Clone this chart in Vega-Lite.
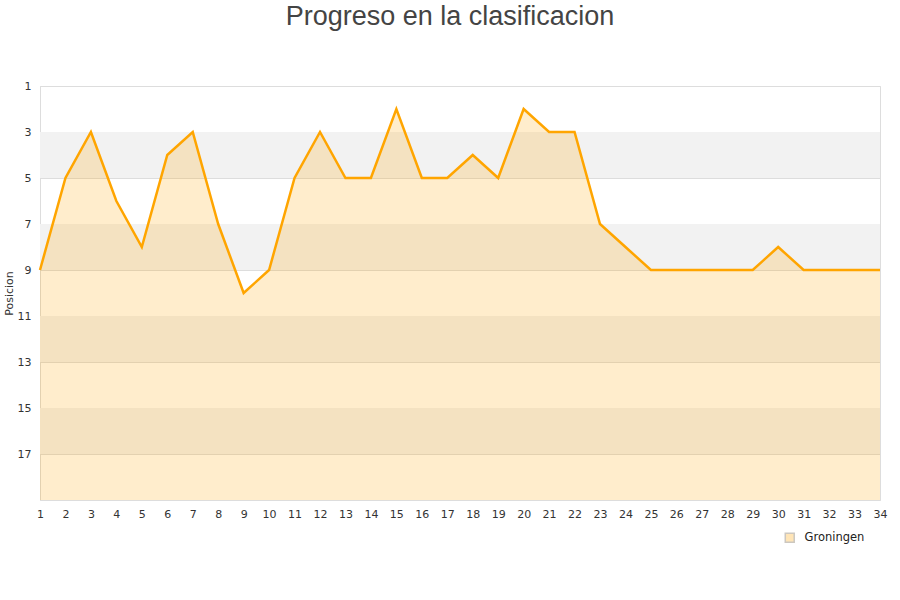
{
  "$schema": "https://vega.github.io/schema/vega-lite/v6.json",
  "width": 840,
  "height": 414,
  "autosize": {"type": "none"},
  "padding": {"left": 40, "top": 86, "right": 20, "bottom": 100},
  "background": "white",
  "title": {
    "text": "Progreso en la clasificacion",
    "font": "Liberation Sans",
    "fontSize": 27,
    "fontWeight": "normal",
    "color": "#444444",
    "anchor": "middle",
    "dx": -10,
    "offset": 49
  },
  "config": {
    "view": {"stroke": "#dddddd"},
    "axis": {
      "labelFont": "DejaVu Sans",
      "labelFontSize": 11,
      "labelColor": "#333333",
      "titleFont": "DejaVu Sans",
      "titleFontSize": 11,
      "titleFontWeight": "normal",
      "titleColor": "#333333",
      "domainColor": "#dddddd",
      "gridColor": "#dddddd",
      "ticks": false
    },
    "axisX": {"labelOverlap": false, "labelFlush": false},
    "legend": {
      "labelFont": "DejaVu Sans",
      "labelFontSize": 11.5,
      "labelColor": "#222222"
    }
  },
  "datasets": {
    "pos": [
      {"jornada": 1, "posicion": 9, "equipo": "Groningen"},
      {"jornada": 2, "posicion": 5, "equipo": "Groningen"},
      {"jornada": 3, "posicion": 3, "equipo": "Groningen"},
      {"jornada": 4, "posicion": 6, "equipo": "Groningen"},
      {"jornada": 5, "posicion": 8, "equipo": "Groningen"},
      {"jornada": 6, "posicion": 4, "equipo": "Groningen"},
      {"jornada": 7, "posicion": 3, "equipo": "Groningen"},
      {"jornada": 8, "posicion": 7, "equipo": "Groningen"},
      {"jornada": 9, "posicion": 10, "equipo": "Groningen"},
      {"jornada": 10, "posicion": 9, "equipo": "Groningen"},
      {"jornada": 11, "posicion": 5, "equipo": "Groningen"},
      {"jornada": 12, "posicion": 3, "equipo": "Groningen"},
      {"jornada": 13, "posicion": 5, "equipo": "Groningen"},
      {"jornada": 14, "posicion": 5, "equipo": "Groningen"},
      {"jornada": 15, "posicion": 2, "equipo": "Groningen"},
      {"jornada": 16, "posicion": 5, "equipo": "Groningen"},
      {"jornada": 17, "posicion": 5, "equipo": "Groningen"},
      {"jornada": 18, "posicion": 4, "equipo": "Groningen"},
      {"jornada": 19, "posicion": 5, "equipo": "Groningen"},
      {"jornada": 20, "posicion": 2, "equipo": "Groningen"},
      {"jornada": 21, "posicion": 3, "equipo": "Groningen"},
      {"jornada": 22, "posicion": 3, "equipo": "Groningen"},
      {"jornada": 23, "posicion": 7, "equipo": "Groningen"},
      {"jornada": 24, "posicion": 8, "equipo": "Groningen"},
      {"jornada": 25, "posicion": 9, "equipo": "Groningen"},
      {"jornada": 26, "posicion": 9, "equipo": "Groningen"},
      {"jornada": 27, "posicion": 9, "equipo": "Groningen"},
      {"jornada": 28, "posicion": 9, "equipo": "Groningen"},
      {"jornada": 29, "posicion": 9, "equipo": "Groningen"},
      {"jornada": 30, "posicion": 8, "equipo": "Groningen"},
      {"jornada": 31, "posicion": 9, "equipo": "Groningen"},
      {"jornada": 32, "posicion": 9, "equipo": "Groningen"},
      {"jornada": 33, "posicion": 9, "equipo": "Groningen"},
      {"jornada": 34, "posicion": 9, "equipo": "Groningen"}
    ],
    "bands": [
      {"desde": 3, "hasta": 5},
      {"desde": 7, "hasta": 9},
      {"desde": 11, "hasta": 13},
      {"desde": 15, "hasta": 17}
    ]
  },
  "layer": [
    {
      "data": {"name": "bands"},
      "mark": {"type": "rect", "fill": "#f2f2f2"},
      "encoding": {
        "y": {
          "field": "desde",
          "type": "quantitative",
          "scale": {"domain": [1, 19], "reverse": true, "zero": false, "nice": false},
          "axis": {
            "values": [1, 3, 5, 7, 9, 11, 13, 15, 17],
            "tickCount": 20,
            "title": "Posicion",
            "labelPadding": 9,
            "titlePadding": 3,
            "grid": true,
            "domain": true
          }
        },
        "y2": {"field": "hasta"}
      }
    },
    {
      "data": {"name": "pos"},
      "mark": {"type": "area", "fillOpacity": 0.2, "line": false},
      "encoding": {
        "x": {
          "field": "jornada",
          "type": "quantitative",
          "scale": {"domain": [1, 34], "nice": false, "zero": false},
          "axis": {
            "values": [1,2,3,4,5,6,7,8,9,10,11,12,13,14,15,16,17,18,19,20,21,22,23,24,25,26,27,28,29,30,31,32,33,34],
            "tickCount": 40,
            "title": null,
            "grid": false,
            "labelPadding": 8,
            "labelFlush": false,
            "labelOverlap": false
          }
        },
        "y": {"field": "posicion", "type": "quantitative"},
        "y2": {"datum": 19},
        "fill": {
          "field": "equipo",
          "type": "nominal",
          "scale": {"range": ["#ffa500"]},
          "legend": {
            "title": null,
            "orient": "none",
            "legendX": 744,
            "legendY": 446,
            "symbolType": "square",
            "symbolSize": 80,
            "labelOffset": 9,
            "symbolOpacity": 0.28,
            "symbolStrokeColor": "#4a3a20",
            "symbolStrokeWidth": 1.5
          }
        }
      }
    },
    {
      "data": {"name": "pos"},
      "mark": {"type": "line", "color": "#ffa500", "strokeWidth": 2.5},
      "encoding": {
        "x": {"field": "jornada", "type": "quantitative"},
        "y": {"field": "posicion", "type": "quantitative"}
      }
    }
  ]
}
